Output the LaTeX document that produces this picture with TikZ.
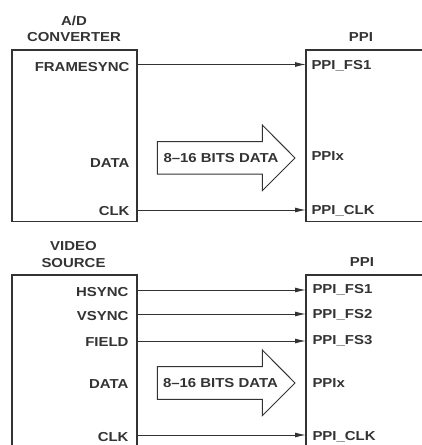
\documentclass[tikz,border=0pt]{standalone}
\usepackage{fontspec}
\newfontfamily\labfont{Liberation Sans}[FakeStretch=1.15]
\usetikzlibrary{arrows.meta}
\definecolor{ink}{HTML}{333333}
\begin{document}
\begin{tikzpicture}[x=1pt,y=-1pt,
  every node/.style={inner sep=0pt,outer sep=0pt,text=ink,font=\labfont\bfseries\fontsize{13}{15}\selectfont},
  lt/.style={anchor=base east},
  rt/.style={anchor=base west},
  ttl/.style={anchor=base},
  box/.style={draw=ink,line width=1.4pt},
  sig/.style={draw=ink,line width=1pt,-{Latex[length=11pt,width=5pt]}},
  bigarrow/.style={draw=ink,line width=1pt,fill=white}]
\useasboundingbox (0,0) rectangle (422,445);

% ---------- top: A/D converter ----------
\node[ttl] (adA) at (74,25) {A/D};
\node[ttl] (adB) at (74,41.7) {CONVERTER};
\node[ttl] (ppiT) at (361,41.7) {PPI};
\draw[box] (12,50) rectangle (137,221.5);
\draw[box] (424,50) -- (306,50) -- (306,221.5) -- (424,221.5);
\coordinate (aL1) at (137,64.5); \coordinate (aR1) at (306,64.5);
\coordinate (aL2) at (137,210);  \coordinate (aR2) at (306,210);
\node[lt] (fs) at (129.5,71.5) {FRAMESYNC};
\node[lt] (dA) at (129.5,167) {DATA};
\node[lt] (cA) at (129.5,215) {CLK};
\node[rt] (pf1) at (311.5,69) {PPI\_FS1};
\node[rt] (px1) at (311.5,160) {PPIx};
\node[rt] (pc1) at (311.5,214) {PPI\_CLK};
\draw[sig] (aL1) -- (aR1);
\draw[sig] (aL2) -- (aR2);
\draw[bigarrow] (157.3,141.7) -- (262.3,141.7) -- (262.3,125) -- (295,158)
  -- (262.3,190.7) -- (262.3,174) -- (157.3,174) -- cycle;
\node[rt] (bdA) at (163.5,162.5) {8–16 BITS DATA};

% ---------- bottom: video source ----------
\node[ttl] (vsA) at (73.5,250) {VIDEO};
\node[ttl] (vsB) at (73.5,267.7) {SOURCE};
\node[ttl] (ppiB) at (362,266.5) {PPI};
\draw[box] (12,447) -- (12,275) -- (137,275) -- (137,447);
\draw[box] (424,275) -- (306,275) -- (306,447);
\coordinate (bL1) at (137,290);   \coordinate (bR1) at (306,290);
\coordinate (bL2) at (137,314);   \coordinate (bR2) at (306,314);
\coordinate (bL3) at (137,341);   \coordinate (bR3) at (306,341);
\coordinate (bL4) at (137,435);   \coordinate (bR4) at (306,435);
\node[lt] (hs) at (128.5,296) {HSYNC};
\node[lt] (vs) at (128.5,320) {VSYNC};
\node[lt] (fd) at (128.5,346.5) {FIELD};
\node[lt] (dB) at (128.5,388) {DATA};
\node[lt] (cB) at (128.5,441) {CLK};
\node[rt] (pf2a) at (312.5,293.5) {PPI\_FS1};
\node[rt] (pf2b) at (312.5,318.3) {PPI\_FS2};
\node[rt] (pf2c) at (312.5,344.5) {PPI\_FS3};
\node[rt] (px2) at (312.5,387) {PPIx};
\node[rt] (pc2) at (312.5,440) {PPI\_CLK};
\draw[sig] (bL1) -- (bR1);
\draw[sig] (bL2) -- (bR2);
\draw[sig] (bL3) -- (bR3);
\draw[sig] (bL4) -- (bR4);
\draw[bigarrow] (157.3,366.7) -- (262.3,366.7) -- (262.3,350) -- (295,383)
  -- (262.3,415.7) -- (262.3,399.3) -- (157.3,399.3) -- cycle;
\node[rt] (bdB) at (163,387.5) {8–16 BITS DATA};
\end{tikzpicture}
\end{document}
